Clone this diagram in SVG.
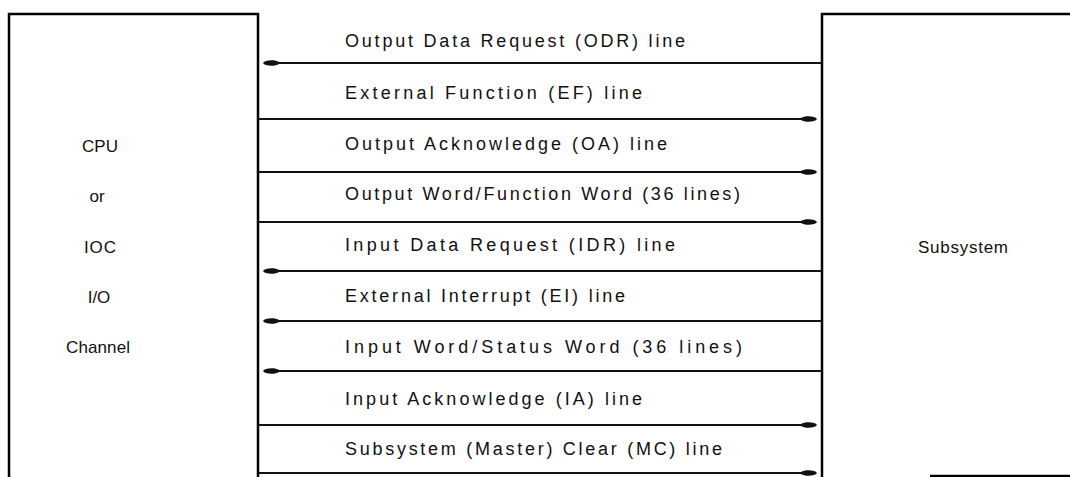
<svg xmlns="http://www.w3.org/2000/svg" width="1070" height="477" viewBox="0 0 1070 477">
<style>
.box{fill:none;stroke:#000;stroke-width:2.5}
.ln{stroke:#111;stroke-width:2.2;fill:none}
.lbl{font-family:"Liberation Sans",Arial,sans-serif;font-size:18px;fill:#111}
.nl{font-family:"Liberation Sans",Arial,sans-serif;font-size:17px;fill:#111;text-anchor:middle}
</style>
<defs>
<marker id="ah" viewBox="0 0 16 10" refX="15" refY="5" markerWidth="16" markerHeight="10" markerUnits="userSpaceOnUse" orient="auto-start-reverse">
<path d="M0,3.8 L5,2.3 Q14,1.8 16,5 Q14,8.2 5,7.7 L0,6.2 Z" fill="#111"/>
</marker>
</defs>
<rect width="1070" height="477" fill="#fff"/>
<g id="cpu">
<path class="box" d="M9,477 V14 H258 V477"/>
<text class="nl" x="100" y="152">CPU</text>
<text class="nl" x="97" y="202">or</text>
<text class="nl" x="100" y="253" textLength="32" lengthAdjust="spacing">IOC</text>
<text class="nl" x="99" y="303">I/O</text>
<text class="nl" x="98" y="353" textLength="64" lengthAdjust="spacing">Channel</text>
</g>
<g id="subsystem">
<path class="box" d="M822,477 V14 H1070"/>
<path class="box" d="M930,476 H1070"/>
<text class="nl" x="963" y="253" textLength="90" lengthAdjust="spacing">Subsystem</text>
</g>
<g id="connectors">
<line class="ln" x1="822" y1="63" x2="264" y2="63" marker-end="url(#ah)"/>
<line class="ln" x1="258" y1="119" x2="816" y2="119" marker-end="url(#ah)"/>
<line class="ln" x1="258" y1="172" x2="816" y2="172" marker-end="url(#ah)"/>
<line class="ln" x1="258" y1="222" x2="816" y2="222" marker-end="url(#ah)"/>
<line class="ln" x1="822" y1="271" x2="264" y2="271" marker-end="url(#ah)"/>
<line class="ln" x1="822" y1="321" x2="264" y2="321" marker-end="url(#ah)"/>
<line class="ln" x1="822" y1="371" x2="264" y2="371" marker-end="url(#ah)"/>
<line class="ln" x1="258" y1="425" x2="816" y2="425" marker-end="url(#ah)"/>
<line class="ln" x1="258" y1="473" x2="816" y2="473" marker-end="url(#ah)"/>
</g>
<g id="labels">
<text class="lbl" x="345" y="47" textLength="340" lengthAdjust="spacing">Output Data Request (ODR) line</text>
<text class="lbl" x="345" y="99" textLength="297" lengthAdjust="spacing">External Function (EF) line</text>
<text class="lbl" x="345" y="150" textLength="322" lengthAdjust="spacing">Output Acknowledge (OA) line</text>
<text class="lbl" x="345" y="200" textLength="395" lengthAdjust="spacing">Output Word/Function Word (36 lines)</text>
<text class="lbl" x="345" y="251" textLength="330" lengthAdjust="spacing">Input Data Request (IDR) line</text>
<text class="lbl" x="345" y="302" textLength="280" lengthAdjust="spacing">External Interrupt (EI) line</text>
<text class="lbl" x="345" y="353" textLength="397" lengthAdjust="spacing">Input Word/Status Word (36 lines)</text>
<text class="lbl" x="345" y="405" textLength="297" lengthAdjust="spacing">Input Acknowledge (IA) line</text>
<text class="lbl" x="345" y="455" textLength="377" lengthAdjust="spacing">Subsystem (Master) Clear (MC) line</text>
</g>
</svg>
